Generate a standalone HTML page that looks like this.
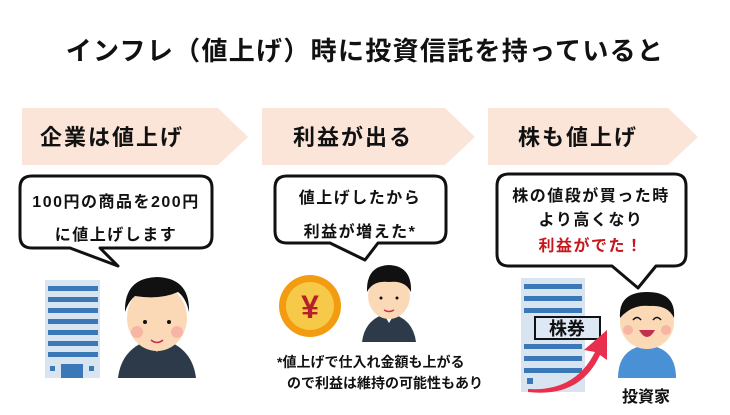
<!DOCTYPE html>
<html><head><meta charset="utf-8"><style>
body{margin:0;width:730px;height:410px;background:#fff;overflow:hidden;font-family:"Liberation Sans","Noto Sans CJK JP",sans-serif;}
svg text{font-family:"Liberation Sans","Noto Sans CJK JP",sans-serif;font-weight:bold;}
</style></head><body>
<svg width="730" height="410" viewBox="0 0 730 410">
<text x="365" y="60" font-size="26" letter-spacing="1.3" text-anchor="middle" fill="#111">インフレ（値上げ）時に投資信託を持っていると</text>
<g fill="#fbe4d8">
<polygon points="22,108 218,108 248,137 218,165 22,165"/>
<polygon points="262,108 445,108 475,137 445,165 262,165"/>
<polygon points="488,108 668,108 698,137 668,165 488,165"/>
</g>
<g font-size="22" letter-spacing="2" fill="#111">
<text x="40" y="145">企業は値上げ</text>
<text x="293" y="145">利益が出る</text>
<text x="518" y="145">株も値上げ</text>
</g>
<g fill="#fff" stroke="#111" stroke-width="3" stroke-linejoin="round">
<path d="M32,176 H200 Q212,176 212,188 V236 Q212,248 200,248 H100 L118,266 L70,248 H32 Q20,248 20,236 V188 Q20,176 32,176Z"/>
<path d="M287,176 H434 Q446,176 446,188 V231 Q446,243 434,243 H378 L365,260 L330,243 H287 Q275,243 275,231 V188 Q275,176 287,176Z"/>
<path d="M509,174 H674 Q686,174 686,186 V254 Q686,266 674,266 H656 L638,288 L612,266 H509 Q497,266 497,254 V186 Q497,174 509,174Z"/>
</g>
<g font-size="16" letter-spacing="1.5" fill="#111" text-anchor="middle">
<text x="116" y="207">100円の商品を200円</text>
<text x="116" y="240">に値上げします</text>
<text x="360" y="203">値上げしたから</text>
<text x="360" y="237">利益が増えた*</text>
<text x="591" y="201">株の値段が買った時</text>
<text x="591" y="225">より高くなり</text>
<text x="591" y="251" fill="#c8161d">利益がでた！</text>
</g>
<rect x="45" y="280" width="55" height="98" fill="#d8e4f0"/>
<g fill="#3b78b8">
<rect x="48" y="286" width="50" height="5"/><rect x="48" y="297" width="50" height="5"/><rect x="48" y="308" width="50" height="5"/><rect x="48" y="319" width="50" height="5"/><rect x="48" y="330" width="50" height="5"/><rect x="48" y="341" width="50" height="5"/><rect x="48" y="352" width="50" height="5"/>
<rect x="61" y="364" width="22" height="14"/><rect x="50" y="366" width="5" height="5"/><rect x="89" y="366" width="5" height="5"/>
</g>
<path d="M118,378 Q122,345 157,338 Q192,345 196,378Z" fill="#2d3a4a"/>
<path d="M148,338 L157,352 L166,338Z" fill="#fff"/>
<ellipse cx="157" cy="318" rx="30" ry="33" fill="#fcd9b6"/>
<path d="M125,312 Q124,278 157,277 Q190,278 189,312 Q186,298 178,292 Q160,300 135,296 Q128,302 125,312Z" fill="#111"/>
<circle cx="145" cy="322" r="2" fill="#111"/><circle cx="169" cy="322" r="2" fill="#111"/>
<circle cx="137" cy="332" r="6" fill="#f7b5a5"/><circle cx="177" cy="332" r="6" fill="#f7b5a5"/>
<path d="M151,340 Q157,345 163,340" stroke="#c0304a" stroke-width="1.5" fill="none"/>
<circle cx="310" cy="306" r="31" fill="#f39c12"/>
<circle cx="310" cy="306" r="24" fill="#f7c948"/>
<text x="310" y="318" font-size="32" text-anchor="middle" fill="#b5202a">¥</text>
<path d="M362,342 Q365,318 389,313 Q413,318 416,342Z" fill="#2d3a4a"/>
<path d="M383,313 L389,323 L395,313Z" fill="#fff"/>
<ellipse cx="389" cy="296" rx="21" ry="23" fill="#fcd9b6"/>
<path d="M367,292 Q366,266 389,265 Q412,266 411,292 Q405,280 389,282 Q373,280 367,292Z" fill="#111"/>
<circle cx="381" cy="298" r="1.5" fill="#111"/><circle cx="397" cy="298" r="1.5" fill="#111"/>
<path d="M384,310 Q389,313 394,310" stroke="#c0304a" stroke-width="1.5" fill="none"/>
<g font-size="14" fill="#111">
<text x="277" y="367">*値上げで仕入れ金額も上がる</text>
<text x="287" y="388">ので利益は維持の可能性もあり</text>
</g>
<rect x="521" y="278" width="64" height="114" fill="#d8e4f0"/>
<g fill="#3b78b8">
<rect x="524" y="284" width="58" height="5"/><rect x="524" y="296" width="58" height="5"/><rect x="524" y="308" width="58" height="5"/><rect x="524" y="344" width="58" height="5"/><rect x="524" y="356" width="58" height="5"/><rect x="524" y="368" width="58" height="5"/>
<rect x="527" y="378" width="6" height="6"/>
</g>
<rect x="535" y="317" width="65" height="22" fill="#dde8f4" stroke="#111" stroke-width="2"/>
<text x="567" y="335" font-size="18" text-anchor="middle" fill="#111">株券</text>
<path d="M528,389 Q575,392 595,352 L584,350 L607,330 L607,360 L600,355 Q580,398 528,392Z" fill="#e8304e"/>
<path d="M618,378 Q618,348 647,345 Q676,348 676,378Z" fill="#4a90d4"/>
<ellipse cx="647" cy="322" rx="27" ry="27" fill="#fcd9b6"/>
<path d="M620,318 Q618,292 647,292 Q676,292 674,318 Q668,305 650,306 Q632,304 620,318Z" fill="#111"/>
<path d="M633,320 Q637,315 641,320 M653,320 Q657,315 661,320" stroke="#111" stroke-width="1.5" fill="none"/>
<path d="M639,330 Q647,344 655,330Z" fill="#c0304a"/>
<circle cx="628" cy="330" r="5" fill="#f7b5a5"/><circle cx="666" cy="330" r="5" fill="#f7b5a5"/>
<text x="646" y="402" font-size="16" text-anchor="middle" fill="#111">投資家</text>
</svg>
</body></html>
